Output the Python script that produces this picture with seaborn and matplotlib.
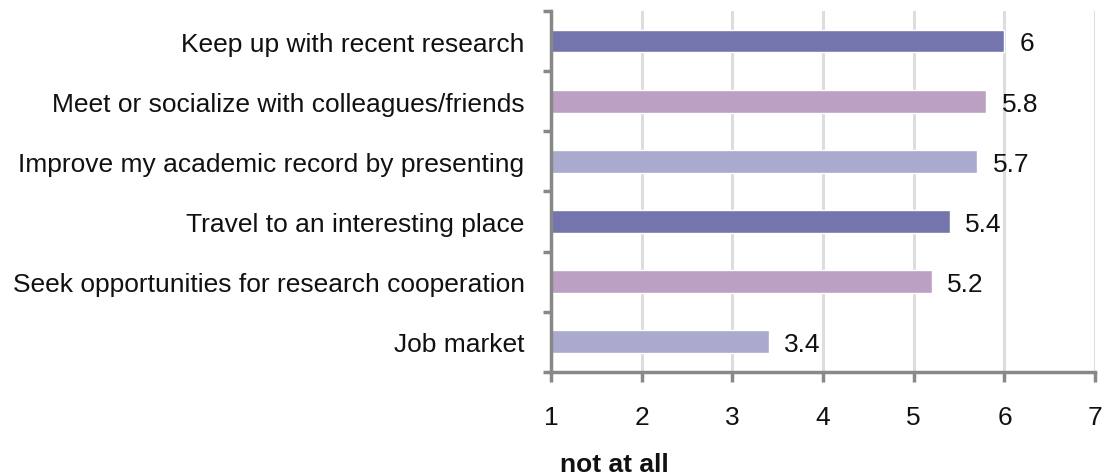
import matplotlib
matplotlib.use("Agg")
import matplotlib.pyplot as plt
import seaborn as sns
import pandas as pd
from matplotlib.ticker import FixedLocator

# chart data
reasons = ["Keep up with recent research",
           "Meet or socialize with colleagues/friends",
           "Improve my academic record by presenting",
           "Travel to an interesting place",
           "Seek opportunities for research cooperation",
           "Job market"]
scores = [6, 5.8, 5.7, 5.4, 5.2, 3.4]
score_labels = ["6", "5.8", "5.7", "5.4", "5.2", "3.4"]
bar_colors = ["#7575ae", "#bba0c4", "#aaaacf", "#7575ae", "#bba0c4", "#aaaacf"]
x_ticks = [1, 2, 3, 4, 5, 6, 7]

df = pd.DataFrame({"reason": reasons, "score": scores})

sns.set_style("white")
plt.rcParams["font.family"] = ["Liberation Sans", "DejaVu Sans"]
FS = 19

fig = plt.figure(figsize=(11.04, 4.77), dpi=100)
ax = fig.add_axes([0.499, 0.218, 0.493, 0.757])

# bars start at 1 (the axis minimum), so plot the length above 1 with left=1
sns.barplot(data=df, y="reason", x="score", hue="reason", palette=bar_colors,
            legend=False, width=0.38, ax=ax, orient="h", saturation=1)
for patch in ax.patches:
    patch.set_x(1)
    patch.set_width(patch.get_width() - 1)

ax.set_xlim(1, 7)
ax.set_ylim(5.5, -0.5)
ax.set_xticks(x_ticks)
ax.set_xticklabels([str(t) for t in x_ticks])
ax.set_xlabel("")
ax.set_ylabel("")

# value labels
for i, (v, lab) in enumerate(zip(scores, score_labels)):
    ax.text(v + 0.17, i + 0.04, lab, va="center", ha="left", fontsize=FS, color="#111111")

# gridlines
ax.grid(axis="x", color="#dddddd", linewidth=2.2)
ax.set_axisbelow(True)

for side in ["top", "right"]:
    ax.spines[side].set_visible(False)
for side in ["left", "bottom"]:
    ax.spines[side].set_color("#888888")
    ax.spines[side].set_linewidth(2.5)

ax.tick_params(axis="x", bottom=True, direction="out", length=7, width=2.5, color="#888888",
               labelsize=FS, pad=17, labelcolor="#111111")
ax.tick_params(axis="y", which="major", left=True, length=0, labelsize=FS, pad=19,
               labelcolor="#111111")
ax.yaxis.set_minor_locator(FixedLocator([-0.5, 0.5, 1.5, 2.5, 3.5, 4.5, 5.5]))
ax.tick_params(axis="y", which="minor", left=True, direction="out", length=6, width=2.5,
               color="#888888")

fig.text(560 / 1104, 1 - 465 / 477, "not at all", fontsize=FS, fontweight="bold",
         ha="left", va="center", color="#111111")

fig.savefig("out.png", dpi=100)
